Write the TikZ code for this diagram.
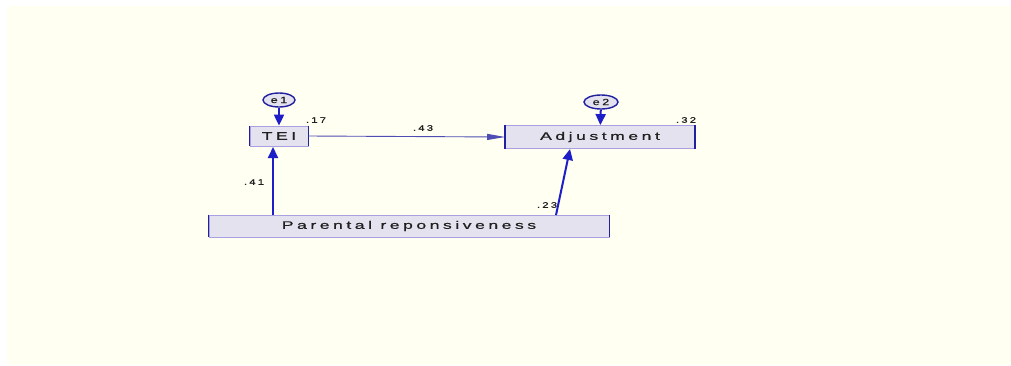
\documentclass[tikz,border=0pt]{standalone}
\usepackage{fontspec}
\usepackage{graphicx}
\setmainfont{Liberation Sans}
\usetikzlibrary{arrows.meta,shapes.geometric}
\definecolor{bgcream}{HTML}{FFFFF2}
\definecolor{pathblue}{HTML}{1E1EC8}
\definecolor{boxfill}{HTML}{E4E2EE}
\definecolor{boxline}{HTML}{A8A0E0}
\definecolor{edgeblue}{HTML}{2020A0}
\definecolor{txtgray}{HTML}{202020}
\newfontfamily\widefont[LetterSpace=20,FakeBold=0.6]{Liberation Sans}
\newcommand{\wtx}[1]{\scalebox{1.6}[1]{#1}}
\tikzset{
  varbox/.style={rectangle, fill=boxfill, draw=boxline, line width=0.8pt, inner sep=0pt,
    font=\widefont\fontsize{11}{13}\selectfont, text=txtgray},
  errnode/.style={ellipse, draw=edgeblue, line width=1.4pt, fill=boxfill, inner sep=0pt,
    minimum width=32pt, minimum height=14pt, font=\widefont\fontsize{9}{10}\selectfont, text=txtgray},
  coef/.style={font=\widefont\fontsize{8}{9}\selectfont, text=txtgray, inner sep=0pt},
  path arrow/.style={draw=pathblue, line width=2pt, -{Triangle[length=11pt,width=10pt]}},
  thin arrow/.style={draw=edgeblue!80, line width=0.9pt, -{Triangle[length=18pt,width=6pt]}},
  sideedge/.style={draw=edgeblue, line width=1.6pt}
}
\begin{document}
\begin{tikzpicture}[x=1pt,y=-1pt]
\useasboundingbox (0,0) rectangle (1011,365);
\fill[white] (0,0) rectangle (1011,365);
\fill[bgcream] (7,6) rectangle (1011,365);

% boxes
\node[varbox, minimum width=58pt, minimum height=20pt] (tei) at (279,136) {\wtx{TEI}};
\node[varbox, minimum width=189pt, minimum height=23pt] (adj) at (600,137) {\wtx{Adjustment}};
\node[varbox, minimum width=400pt, minimum height=22pt] (par) at (409,226) {\wtx{Parental reponsiveness}};
\foreach \n in {tei,adj,par}{
  \draw[sideedge] (\n.north west) -- (\n.south west);
  \draw[sideedge] (\n.north east) -- (\n.south east);
}

% error terms
\node[errnode] (e1) at (279,100) {\scalebox{1.4}[1]{e1}};
\node[errnode, minimum width=34pt] (e2) at (601,102) {\scalebox{1.4}[1]{e2}};

% coordinates for arrow ends
\coordinate (p1) at (273,215);
\coordinate (t1) at (273,147);
\coordinate (p2) at (556,215);
\coordinate (a2) at (570,149);

\draw[path arrow] (e1) -- (tei);
\draw[path arrow] (e2) -- (adj);
\draw[path arrow] (p1) -- (t1);
\draw[path arrow] (p2) -- (a2);
\draw[thin arrow] (tei.east) -- (adj.west);

% coefficients
\node[coef] (c17) at (316,120) {\scalebox{1.4}[1]{.17}};
\node[coef] (c32) at (686,120) {\scalebox{1.4}[1]{.32}};
\node[coef] (c43) at (423,128) {\scalebox{1.4}[1]{.43}};
\node[coef] (c41) at (254,182) {\scalebox{1.4}[1]{.41}};
\node[coef] (c23) at (547,205) {\scalebox{1.4}[1]{.23}};
\end{tikzpicture}
\end{document}
